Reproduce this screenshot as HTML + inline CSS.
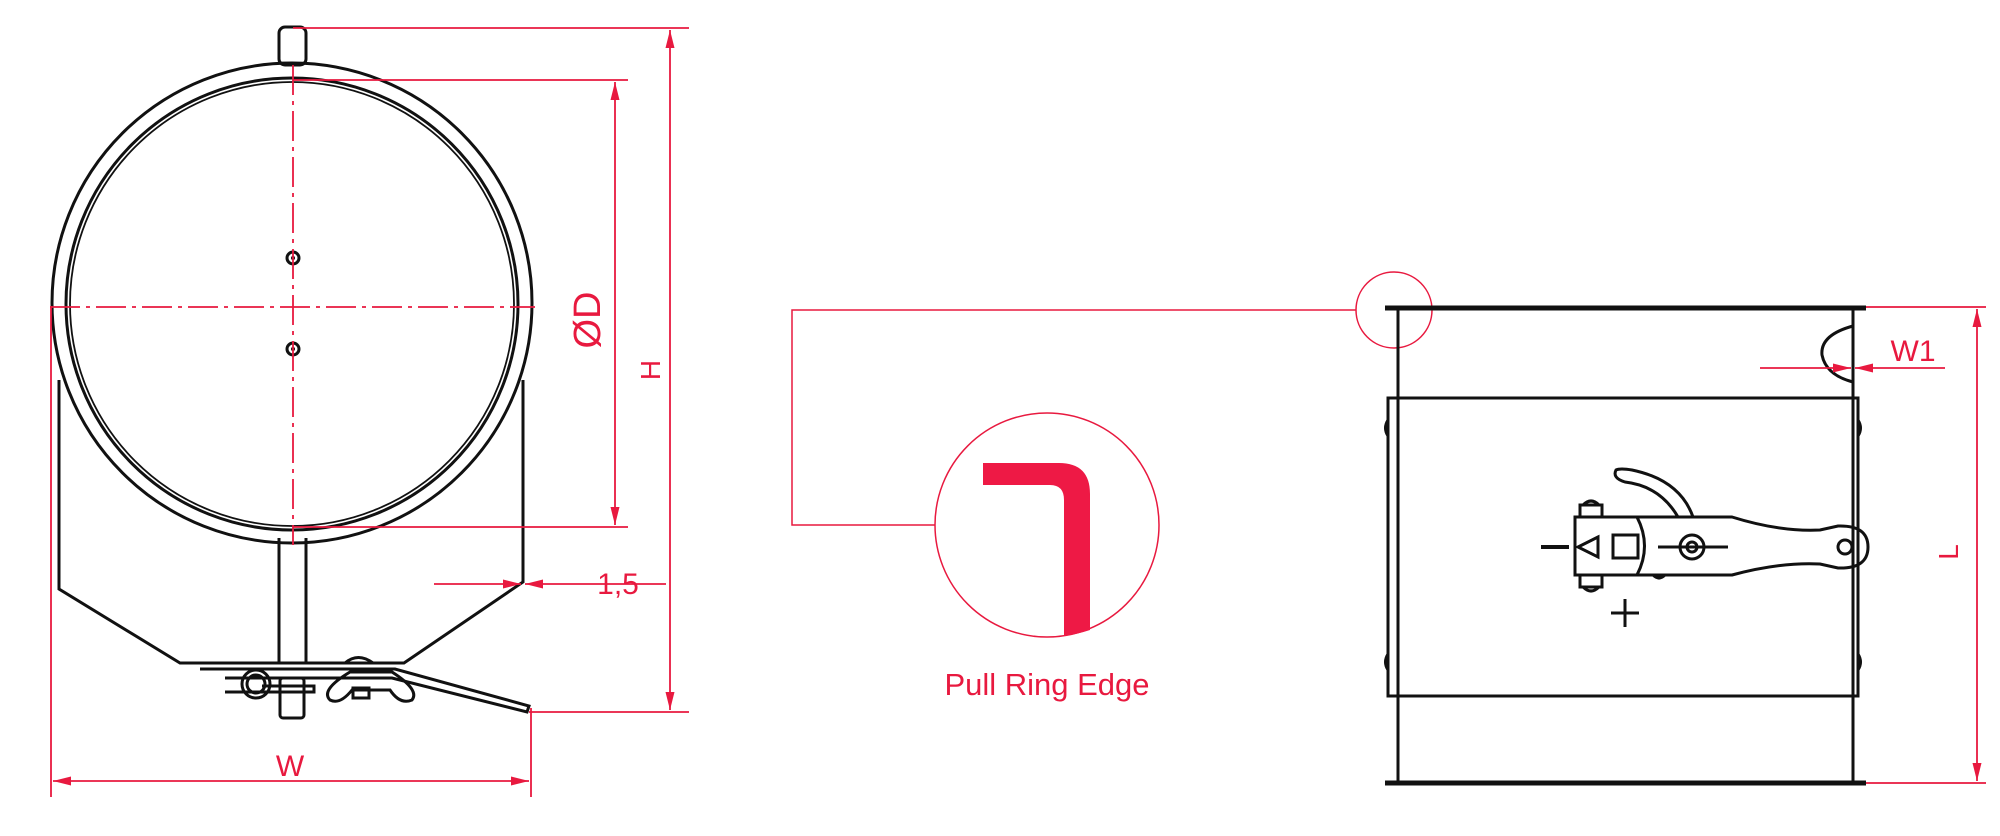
<!DOCTYPE html>
<html><head><style>
html,body{margin:0;padding:0;background:#fff;}
svg{display:block;}
text{font-family:"Liberation Sans",sans-serif;fill:#e8193f;}
</style></head><body>
<svg width="2000" height="836" viewBox="0 0 2000 836" xmlns="http://www.w3.org/2000/svg">
<defs>
<marker id="a" viewBox="0 0 20 10" refX="20" refY="5" markerWidth="18" markerHeight="9" markerUnits="userSpaceOnUse" orient="auto-start-reverse"><path d="M0,0 L20,5 L0,10 Z" fill="#e8193f"/></marker>
</defs>
<!-- LEFT VIEW -->
<g fill="none" stroke="#111" stroke-width="3">
<rect x="279" y="27" width="27" height="38" rx="6"/>
<circle cx="292" cy="303" r="240"/>
<circle cx="292" cy="304" r="226"/>
<circle cx="292" cy="304" r="222" stroke-width="1.8"/>
<path d="M59,380 L59,589 L180,663 L404,663 L523,582 L523,380"/>
<path d="M279,538 L279,663 M306,538 L306,663"/>
<circle cx="293" cy="258" r="6"/><circle cx="293" cy="349" r="6"/>
<path d="M200,669 L395,669 L529,706 L527,712 L392,678 L225,678"/>
<circle cx="256" cy="684" r="9"/><circle cx="256" cy="684" r="14"/>
<path d="M225,692 L314,692 L314,686 L262,686"/>
<rect x="280" y="678" width="24" height="40" rx="3"/>
<path d="M345,663 Q358,652 373,663"/>
<path d="M350,672 Q320,690 330,700 Q340,705 352,690 L390,690 Q400,705 412,700 Q420,690 392,672 Z"/>
<rect x="353" y="688" width="16" height="10"/>
</g>
<g fill="#111"><circle cx="293" cy="258" r="2"/><circle cx="293" cy="349" r="2"/></g>
<g fill="none" stroke="#e8193f" stroke-width="1.8">
<path d="M50,307 L535,307" stroke-dasharray="30,6,4,6"/>
<path d="M293,65 L293,545" stroke-dasharray="30,6,4,6"/>
<path d="M293,28 L689,28"/>
<path d="M670,30 L670,710" marker-start="url(#a)" marker-end="url(#a)"/>
<path d="M529,712 L689,712"/>
<path d="M293,80 L628,80 M293,527 L628,527"/>
<path d="M615,82 L615,525" marker-start="url(#a)" marker-end="url(#a)"/>
<path d="M434,584 L521,584" marker-end="url(#a)"/>
<path d="M666,584 L525,584" marker-end="url(#a)"/>
<path d="M51,306 L51,797 M531,708 L531,797"/>
<path d="M53,781 L529,781" marker-start="url(#a)" marker-end="url(#a)"/>
</g>
<text x="0" y="0" font-size="38" text-anchor="middle" transform="translate(600,320) rotate(-90)">ØD</text>
<text x="0" y="0" font-size="28" text-anchor="middle" transform="translate(660,370) rotate(-90)">H</text>
<text x="618" y="594" font-size="30" text-anchor="middle">1,5</text>
<text x="290" y="776" font-size="30" text-anchor="middle">W</text>
<!-- MIDDLE DETAIL -->
<g fill="none" stroke="#e8193f" stroke-width="1.5">
<circle cx="1394" cy="310" r="38"/>
<path d="M1356,310 L792,310 L792,525 L935,525"/>
<circle cx="1047" cy="525" r="112"/>
</g>
<path d="M983,463 L1059,463 Q1090,463 1090,494 L1090,630 Q1078,634 1064,636 L1064,500 Q1064,485 1050,485 L983,485 Z" fill="#ee1945"/>
<text x="1047" y="695" font-size="31" text-anchor="middle">Pull Ring Edge</text>
<!-- RIGHT VIEW -->
<g fill="none" stroke="#111" stroke-width="3">
<path d="M1385,308 L1866,308" stroke-width="5"/>
<path d="M1385,783 L1866,783" stroke-width="5"/>
<path d="M1398,308 L1398,783 M1853,308 L1853,783"/>
<rect x="1388" y="398" width="470" height="298"/>
<path d="M1853,326 Q1820,335 1822,355 Q1826,375 1853,382"/>
<path d="M1388,420 Q1383,428 1388,436 M1388,654 Q1383,662 1388,670 M1858,420 Q1863,428 1858,436 M1858,654 Q1863,662 1858,670"/>
<path d="M1575,517 L1732,517 Q1780,532 1820,530 L1838,526 Q1868,525 1868,547 Q1868,569 1838,568 L1820,564 Q1780,562 1732,575 L1575,575 Z"/>
<path d="M1637,517 Q1652,546 1637,575"/>
<path d="M1678,517 Q1660,486 1625,482 Q1612,478 1616,470 Q1620,468 1632,470 Q1680,480 1693,517"/>
<rect x="1580" y="505" width="22" height="12"/><rect x="1580" y="575" width="22" height="12"/>
<path d="M1583,505 Q1591,497 1599,505 M1583,587 Q1591,595 1599,587"/>
<path d="M1653,575 Q1659,581 1665,575"/>
<rect x="1613" y="535" width="25" height="23"/>
<path d="M1598,537 L1578,547 L1598,557 Z"/>
<path d="M1658,547 L1728,547"/>
<circle cx="1692" cy="547" r="12"/><circle cx="1692" cy="547" r="5"/>
<circle cx="1845" cy="547" r="7"/>
<path d="M1541,547 L1569,547" stroke-width="4"/>
<path d="M1611,613 L1639,613 M1625,599 L1625,627" stroke-width="3"/>
</g>
<g fill="none" stroke="#e8193f" stroke-width="1.8">
<path d="M1866,307 L1986,307 M1866,783 L1986,783"/>
<path d="M1977,309 L1977,781" marker-start="url(#a)" marker-end="url(#a)"/>
<path d="M1760,368 L1851,368" marker-end="url(#a)"/>
<path d="M1945,368 L1855,368" marker-end="url(#a)"/>
</g>
<text x="1913" y="361" font-size="30" text-anchor="middle">W1</text>
<text x="0" y="0" font-size="28" text-anchor="middle" transform="translate(1958,552) rotate(-90)">L</text>
</svg>
</body></html>
